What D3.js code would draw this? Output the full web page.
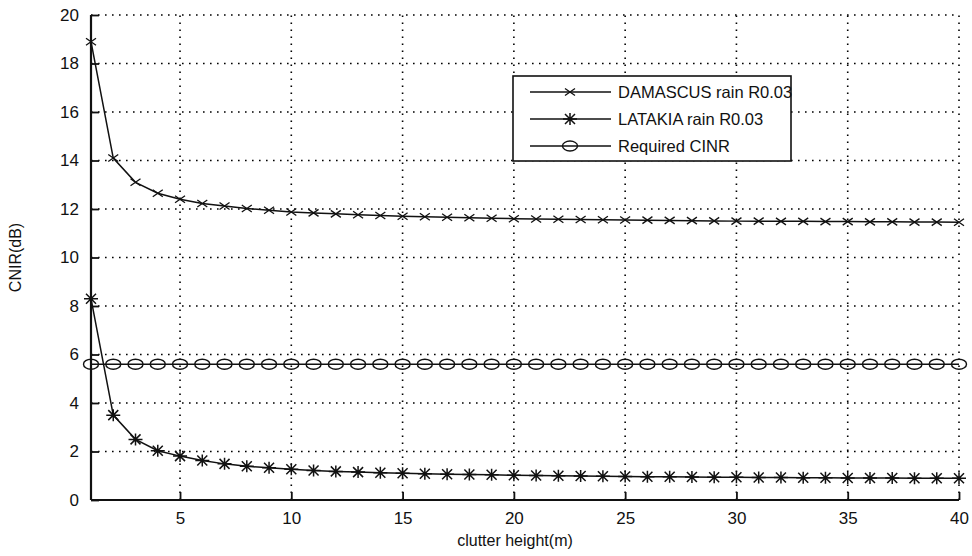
<!DOCTYPE html>
<html><head><meta charset="utf-8">
<script src="https://cdn.jsdelivr.net/npm/d3@7"></script>
<style>body{margin:0;background:#fff}svg{display:block}text{font-family:"Liberation Sans",Arial,sans-serif;fill:#111}</style>
</head><body><svg id="c" width="972" height="556"></svg>
<script>
const heights = d3.range(1, 41);
const damascus = [18.9,14.1,13.1,12.65,12.4,12.23,12.12,12.02,11.95,11.88,11.84,11.8,11.76,11.73,11.7,11.68,11.66,11.64,11.62,11.6,11.59,11.58,11.57,11.56,11.55,11.54,11.53,11.52,11.51,11.5,11.5,11.49,11.49,11.48,11.48,11.47,11.47,11.46,11.46,11.45];
const latakia = [8.3,3.5,2.5,2.03,1.81,1.63,1.49,1.39,1.33,1.27,1.22,1.18,1.15,1.12,1.1,1.08,1.06,1.05,1.04,1.02,1.01,1.0,0.99,0.98,0.97,0.96,0.96,0.95,0.94,0.94,0.93,0.93,0.92,0.92,0.91,0.91,0.91,0.9,0.9,0.9];
const required = heights.map(() => 5.6);
const xTicks = [5,10,15,20,25,30,35,40];
const yTicks = [0,2,4,6,8,10,12,14,16,18,20];
const seriesNames = ["DAMASCUS rain R0.03","LATAKIA rain R0.03","Required CINR"];
const xLabel = "clutter height(m)", yLabel = "CNIR(dB)";

const svg = d3.select("#c");
const L=91,R=959,T=15,B=500;
const x = d3.scaleLinear().domain([1,40]).range([L,R]);
const y = d3.scaleLinear().domain([0,20]).range([B,T]);
const ink="#111";

// grid
const g = svg.append("g");
g.selectAll(".gx").data(xTicks).join("line").attr("x1",d=>x(d)).attr("x2",d=>x(d)).attr("y1",B).attr("y2",T)
 .attr("stroke","#000").attr("stroke-width",1.6).attr("stroke-dasharray","1.6,5.4");
g.selectAll(".gy").data(yTicks.filter(d=>d>0)).join("line").attr("y1",d=>y(d)).attr("y2",d=>y(d)).attr("x1",L).attr("x2",R)
 .attr("stroke","#000").attr("stroke-width",1.6).attr("stroke-dasharray","1.6,5.4");

// axes
const xa = svg.append("g").attr("transform",`translate(0,${B})`).call(d3.axisBottom(x).tickValues(xTicks).tickSize(-8).tickPadding(14));
const ya = svg.append("g").attr("transform",`translate(${L},0)`).call(d3.axisLeft(y).tickValues(yTicks).tickSize(-8).tickPadding(14));
[xa,ya].forEach(a=>{a.select(".domain").attr("stroke",ink).attr("stroke-width",2.2).attr("d", a===xa?`M${L},0H${R}`:`M0,${B}V${T}`);
 a.selectAll(".tick line").attr("stroke",ink).attr("stroke-width",1.8);
 a.selectAll("text").attr("font-size",17).attr("fill","#222").attr("font-family","'Liberation Sans',Arial,sans-serif");});
xa.selectAll(".tick text").attr("dy","0.71em").attr("y",12);
ya.selectAll(".tick text").attr("x",-12);

svg.append("text").attr("x",(L+R)/2-10).attr("y",546).attr("text-anchor","middle").attr("font-size",16).text(xLabel);
svg.append("text").attr("transform",`translate(21,${(T+B)/2}) rotate(-90)`).attr("text-anchor","middle").attr("font-size",16).text(yLabel);

const line = d3.line().x((d,i)=>x(heights[i])).y(d=>y(d));
const data=[damascus,latakia,required];
const plot = svg.append("g");
data.forEach(s=>plot.append("path").attr("d",line(s)).attr("fill","none").attr("stroke",ink).attr("stroke-width",1.5));

function marker(sel,type,cx,cy){
  if(type===0){ sel.append("path").attr("d",`M${cx-5},${cy-3.5}L${cx+5},${cy+3.5}M${cx-5},${cy+3.5}L${cx+5},${cy-3.5}`).attr("stroke",ink).attr("stroke-width",1.3).attr("fill","none"); }
  else if(type===1){ sel.append("path").attr("d",`M${cx-7},${cy}H${cx+7}M${cx},${cy-6}V${cy+6}M${cx-5},${cy-5}L${cx+5},${cy+5}M${cx-5},${cy+5}L${cx+5},${cy-5}`).attr("stroke",ink).attr("stroke-width",1.5).attr("fill","none"); }
  else { sel.append("ellipse").attr("cx",cx).attr("cy",cy).attr("rx",7.5).attr("ry",5).attr("fill","none").attr("stroke",ink).attr("stroke-width",1.4); }
}
data.forEach((s,k)=>s.forEach((v,i)=>marker(plot,k,x(heights[i]),y(v))));

// legend
const lg = svg.append("g");
lg.append("rect").attr("x",513).attr("y",76).attr("width",278).attr("height",85).attr("fill","#fff").attr("stroke",ink).attr("stroke-width",1.6);
seriesNames.forEach((n,k)=>{
  const yy=92+k*27;
  lg.append("line").attr("x1",530).attr("x2",611).attr("y1",yy).attr("y2",yy).attr("stroke",ink).attr("stroke-width",1.4);
  marker(lg,k,570,yy);
  lg.append("text").attr("x",618).attr("y",yy).attr("dy","0.36em").attr("font-size",16.5).text(n);
});
</script></body></html>
